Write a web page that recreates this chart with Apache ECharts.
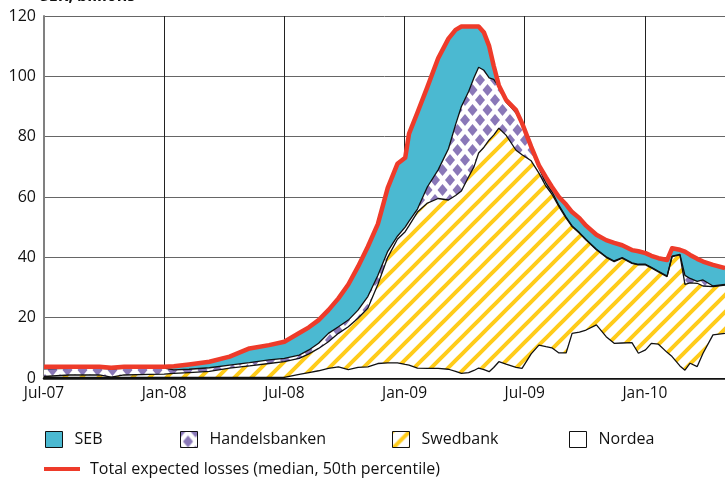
<!DOCTYPE html>
<html><head><meta charset="utf-8">
<script src="https://cdn.jsdelivr.net/npm/echarts@6/dist/echarts.min.js"></script>
<style>html,body{margin:0;padding:0;background:#fff}#c{width:725px;height:478px}</style>
</head><body><div id="c"></div>
<script>
// ---- data (SEK billions) ----
const dates = ['2007-07-01','2007-08-09','2007-09-24','2007-10-12','2007-11-01','2007-12-09','2008-01-01','2008-01-16','2008-02-08','2008-03-09',
 '2008-04-09','2008-05-09','2008-06-08','2008-07-01','2008-07-24','2008-08-08','2008-08-23','2008-09-07','2008-09-22','2008-10-07',
 '2008-10-22','2008-11-06','2008-11-21','2008-12-06','2008-12-21','2009-01-02','2009-01-08','2009-01-21','2009-02-05','2009-02-20',
 '2009-03-07','2009-03-18','2009-03-27','2009-04-07','2009-04-15','2009-04-22','2009-04-30','2009-05-08','2009-05-15','2009-05-23',
 '2009-06-03','2009-06-18','2009-06-27','2009-07-11','2009-07-23','2009-08-03','2009-08-12','2009-08-23','2009-09-03','2009-09-12',
 '2009-09-23','2009-10-03','2009-10-19','2009-11-03','2009-11-15','2009-11-27','2009-12-12','2009-12-22','2010-01-02','2010-01-11',
 '2010-01-22','2010-02-04','2010-02-11','2010-02-22','2010-03-01','2010-03-09','2010-03-20','2010-03-29','2010-04-13','2010-05-01'];
const nordea = [0.2,0.2,0.2,0.2,0.2,0.2,0.2,0.2,0.2,0.2,
 0.2,0.2,0.2,0.2,1.2,1.8,2.4,3.2,3.7,2.8,
 3.5,3.7,4.8,5.0,5.0,4.5,4.3,3.3,3.2,3.2,
 2.9,2.2,1.5,1.8,2.5,3.3,2.8,2.1,3.5,5.4,
 4.6,3.5,3.2,8.0,10.9,10.4,10.0,8.3,8.3,14.8,
 15.2,15.9,17.6,13.7,11.5,11.6,11.7,8.2,9.3,11.5,
 11.2,8.5,7.1,4.0,2.6,4.9,3.8,8.2,14.3,14.8];
const swedbank = [0.3,0.8,0.8,0.1,0.8,1.0,1.1,1.3,1.6,2.0,
 3.1,3.8,4.6,5.2,5.3,6.2,7.4,8.8,11.1,14.2,
 16.3,19.4,26.2,35.0,41.0,44.0,46.2,51.7,54.8,56.3,
 56.1,58.3,60.5,64.9,67.5,71.3,73.7,76.8,77.0,77.4,
 75.9,72.0,70.8,64.0,57.0,53.1,51.0,48.5,44.7,35.4,
 32.8,29.8,24.9,26.3,27.1,28.1,26.3,29.3,28.2,25.0,
 24.0,25.1,33.1,36.8,28.4,26.6,27.6,22.3,16.0,16.0];
const handelsbanken = [2.5,2.2,2.2,2.7,2.2,2.1,2.0,1.2,1.1,1.2,
 1.0,1.1,1.2,1.1,1.1,1.3,1.7,2.8,2.2,2.2,
 2.7,3.9,3.0,2.0,1.0,1.5,1.5,1.0,5.4,9.5,
 17.0,23.5,28.0,28.3,29.5,28.4,25.5,20.6,18.5,13.7,
 11.0,12.5,10.0,4.0,1.6,1.0,0.8,0.4,0.3,0.2,
 0.2,0.2,0.2,0.2,0.2,0.2,0.2,0.2,0.2,0.2,
 0.2,0.2,0.2,0.2,3.0,1.5,0.6,2.0,0.2,0.2];
const seb = [0.7,0.5,0.5,0.4,0.5,0.4,0.4,1.2,1.6,2.0,
 2.8,4.7,4.9,5.5,7.3,7.5,7.7,7.7,9.4,11.8,
 14.4,16.5,17.0,21.0,24.0,23.0,29.0,32.0,33.1,37.0,
 36.5,31.4,26.5,21.5,17.0,13.5,12.5,10.5,4.5,0.5,
 0.7,0.8,0.5,0.7,1.0,2.0,1.6,2.8,4.2,4.6,
 4.8,4.6,4.8,5.5,6.0,4.1,4.2,4.3,3.7,3.8,
 4.3,5.3,2.6,1.5,7.9,7.8,7.5,6.1,7.0,5.4];
const totalLosses = [3.7,3.7,3.7,3.4,3.7,3.7,3.7,3.9,4.5,5.4,
 7.1,9.8,10.9,12.0,14.9,16.8,19.2,22.5,26.4,31.0,
 36.9,43.5,51.0,63.0,71.0,73.0,81.0,88.0,96.5,106.0,
 112.5,115.4,116.5,116.5,116.5,116.5,114.5,110.0,103.5,97.0,
 92.2,88.8,84.5,76.7,70.5,66.5,63.4,60.0,57.5,55.0,
 53.0,50.5,47.5,45.7,44.8,44.0,42.4,42.0,41.4,40.5,
 39.7,39.1,43.0,42.5,41.9,40.8,39.5,38.6,37.5,36.4];
const xTickLabels = ['Jul-07','Jan-08','Jul-08','Jan-09','Jul-09','Jan-10'];
const yTickValues = [0,20,40,60,80,100,120];
const seriesNames = ['SEB','Handelsbanken','Swedbank','Nordea'];
const totalName = 'Total expected losses (median, 50th percentile)';
const unitTitle = 'SEK, billions';

// months since Jul-07 (fractional)
function monthIndex(s){const p=s.split('-').map(Number);const dim=new Date(p[0],p[1],0).getDate();return (p[0]-2007)*12+(p[1]-7)+(p[2]-1)/dim;}
const xs = dates.map(monthIndex);
const pairs = arr => arr.map((v,i)=>[xs[i],+v.toFixed(3)]);
// cumulative tops of the stack (Nordea at the bottom)
const cumN = nordea.slice();
const cumS = cumN.map((v,i)=>v+swedbank[i]);
const cumH = cumS.map((v,i)=>v+handelsbanken[i]);
const cumT = cumH.map((v,i)=>v+seb[i]);

// ---- patterns ----
function hatchCanvas(){const s=17,c=document.createElement('canvas');c.width=s;c.height=s;const g=c.getContext('2d');
 g.fillStyle='#fff';g.fillRect(0,0,s,s);g.strokeStyle='#FFCC1A';g.lineWidth=4;g.beginPath();
 g.moveTo(-s,s);g.lineTo(s,-s);g.moveTo(0,s);g.lineTo(s,0);g.moveTo(0,2*s);g.lineTo(2*s,0);g.stroke();return c;}
function diamondCanvas(){const w=15,h=20,c=document.createElement('canvas');c.width=w;c.height=h;const g=c.getContext('2d');
 g.fillStyle='#fff';g.fillRect(0,0,w,h);g.fillStyle='#8A78B8';const a=5,b=6;
 [[0,0],[w,0],[0,h],[w,h],[w/2,h/2]].forEach(([cx,cy])=>{g.beginPath();g.moveTo(cx-a,cy);g.lineTo(cx,cy-b);g.lineTo(cx+a,cy);g.lineTo(cx,cy+b);g.closePath();g.fill();});return c;}
const hatch={image:hatchCanvas(),repeat:'repeat'};
const diamonds={image:diamondCanvas(),repeat:'repeat'};
const TEAL='#4BB9D1', RED='#EE3B2A';
const FONT='Open Sans';

const chart = echarts.init(document.getElementById('c'), null, {renderer:'canvas'});
const edge = {color:'#111',width:1.3};
// opaque bands painted from the top of the stack down, so each band shows between its own top and the next one
function areaSeries(name,data,fill){return {name,type:'line',data:pairs(data),symbol:'none',z:2,
  lineStyle:edge,areaStyle:{color:fill,opacity:1},itemStyle:{color:'#111'},emphasis:{disabled:true}};}
function legendBox(name,left,fill){return {left,top:431,padding:0,icon:'rect',itemWidth:17,itemHeight:16,selectedMode:false,
  textStyle:{fontFamily:FONT,fontSize:16,color:'#111',padding:[0,0,0,7]},
  data:[{name,itemStyle:{color:fill,borderColor:'#111',borderWidth:1}}]};}

chart.setOption({
  animation:false,
  backgroundColor:'#fff',
  textStyle:{fontFamily:FONT},
  title:{text:unitTitle,left:40,top:-12,padding:0,textStyle:{fontFamily:FONT,fontSize:16,fontWeight:'bold',color:'#111'}},
  grid:{left:44,right:0,top:16,bottom:100},
  xAxis:{type:'value',min:0,max:34,interval:6,
    axisLine:{show:true,onZero:false,lineStyle:{color:'#111',width:2.5}},axisTick:{show:false},
    splitLine:{show:true,lineStyle:{color:'#222',width:1}},
    axisLabel:{fontFamily:FONT,fontSize:15.5,color:'#111',margin:8,showMaxLabel:false,
      formatter:v=>{const k=Math.round(v/6);return Math.abs(v-k*6)<1e-6&&k<xTickLabels.length?xTickLabels[k]:'';}}},
  yAxis:{type:'value',min:yTickValues[0],max:yTickValues[yTickValues.length-1],interval:20,
    axisLine:{show:true,lineStyle:{color:'#808080',width:2}},axisTick:{show:false},
    splitLine:{show:true,lineStyle:{color:'#666',width:1}},
    axisLabel:{fontFamily:FONT,fontSize:16,color:'#111',margin:8}},
  legend:[
    legendBox(seriesNames[0],45,TEAL),
    legendBox(seriesNames[1],180,diamonds),
    legendBox(seriesNames[2],392,hatch),
    legendBox(seriesNames[3],569,'#fff'),
    {left:44,top:461,padding:0,icon:'rect',itemWidth:36,itemHeight:4,selectedMode:false,
     textStyle:{fontFamily:FONT,fontSize:16,color:'#111',padding:[0,0,0,5]},
     data:[{name:totalName,itemStyle:{color:RED,borderWidth:0}}]}
  ],
  series:[
    areaSeries(seriesNames[0],cumT,TEAL),
    areaSeries(seriesNames[1],cumH,diamonds),
    areaSeries(seriesNames[2],cumS,hatch),
    areaSeries(seriesNames[3],cumN,'#fff'),
    {name:totalName,type:'line',data:pairs(totalLosses),symbol:'none',z:5,
     lineStyle:{color:RED,width:4.5,join:'round'},itemStyle:{color:RED},emphasis:{disabled:true}}
  ]
});
</script></body></html>
